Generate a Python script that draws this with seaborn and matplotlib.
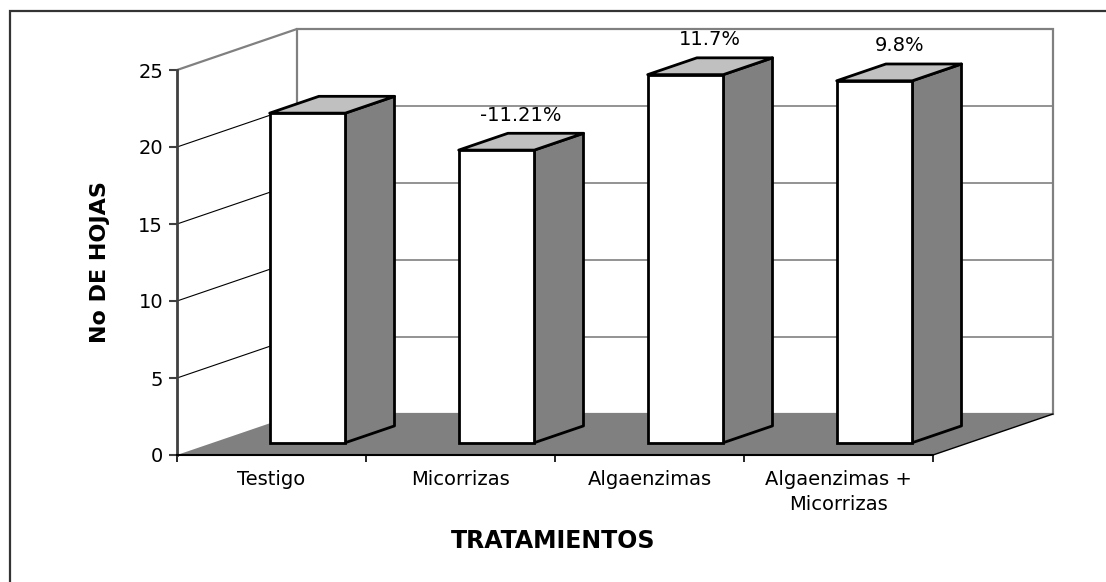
import numpy as np
import pandas as pd
import matplotlib
matplotlib.use("Agg")
import matplotlib.pyplot as plt
import seaborn as sns
from matplotlib.patches import Polygon, Rectangle
from matplotlib.transforms import Affine2D

# data
tratamientos = ["Testigo", "Micorrizas", "Algaenzimas", "Algaenzimas +\nMicorrizas"]
hojas = [21.4, 19.0, 23.9, 23.5]
porcentajes = ["", "-11.21%", "11.7%", "9.8%"]
y_ticks = [0, 5, 10, 15, 20, 25]

sns.set_style("white")
plt.rcParams["font.family"] = ["DejaVu Sans"]
plt.rcParams["text.color"] = "black"
plt.rcParams["axes.labelcolor"] = "black"

fig = plt.figure(figsize=(11.06, 5.82), dpi=100)
ax = fig.add_axes([177 / 1106, 127 / 582, 756 / 1106, 385 / 582])
ax.patch.set_visible(False)

df = pd.DataFrame({"Tratamiento": tratamientos, "Hojas": hojas})
sns.barplot(data=df, x="Tratamiento", y="Hojas", color="white", saturation=1,
            edgecolor="black", linewidth=2, width=0.4, ax=ax)
bars = list(ax.patches)

x0, x1 = -0.5, 3.5
ax.set_xlim(x0, x1)
ax.set_ylim(0, 25)

# oblique depth offset (pixels -> data units)
p0 = ax.transData.transform((0, 0))
p1 = ax.transData.transform((1, 1))
sx, sy = p1 - p0
Dx, Dy = 1.20 * fig.dpi / sx, 0.41 * fig.dpi / sy
f0, f1 = 0.30, 0.71

# back wall + gridlines
ax.add_patch(Polygon([(x0 + Dx, Dy), (x1 + Dx, Dy), (x1 + Dx, 25 + Dy), (x0 + Dx, 25 + Dy)],
                     closed=True, fc="white", ec="#808080", lw=1.6, clip_on=False, zorder=1))
for v in y_ticks[1:-1]:
    ax.plot([x0 + Dx, x1 + Dx], [v + Dy, v + Dy], color="#808080", lw=1.2, clip_on=False, zorder=1.1)
    ax.plot([x0, x0 + Dx], [v, v + Dy], color="black", lw=0.8, clip_on=False, zorder=1.1)
ax.plot([x0, x0 + Dx], [25, 25 + Dy], color="#808080", lw=1.6, clip_on=False, zorder=1.1)

# floor
ax.add_patch(Polygon([(x0, 0), (x1, 0), (x1 + Dx, Dy), (x0 + Dx, Dy)],
                     closed=True, fc="#808080", ec="none", clip_on=False, zorder=2))
ax.plot([x1, x1 + Dx], [0, Dy], color="black", lw=1, clip_on=False, zorder=2.1)

# 3D bars: shift the seaborn front faces and add top/side faces
for bar, txt in zip(bars, porcentajes):
    bx, bw, bh = bar.get_x(), bar.get_width(), bar.get_height()
    bar.set_transform(Affine2D().translate(f0 * Dx, f0 * Dy) + ax.transData)
    bar.set_zorder(5)
    bar.set_clip_on(False)
    side = [(bx + bw + f0 * Dx, f0 * Dy), (bx + bw + f1 * Dx, f1 * Dy),
            (bx + bw + f1 * Dx, bh + f1 * Dy), (bx + bw + f0 * Dx, bh + f0 * Dy)]
    top = [(bx + f0 * Dx, bh + f0 * Dy), (bx + bw + f0 * Dx, bh + f0 * Dy),
           (bx + bw + f1 * Dx, bh + f1 * Dy), (bx + f1 * Dx, bh + f1 * Dy)]
    ax.add_patch(Polygon(side, closed=True, fc="#808080", ec="black", lw=2,
                         joinstyle="round", clip_on=False, zorder=4))
    ax.add_patch(Polygon(top, closed=True, fc="#C0C0C0", ec="black", lw=2,
                         joinstyle="round", clip_on=False, zorder=4))
    if txt:
        ax.annotate(txt, xy=(bx + bw / 2 + (f0 + f1) / 2 * Dx, bh + f1 * Dy),
                    xytext=(0, 9), textcoords="offset points", ha="center",
                    va="baseline", fontsize=14, color="black",
                    annotation_clip=False, zorder=6)

# axes styling
for s in ["top", "right"]:
    ax.spines[s].set_visible(False)
ax.spines["left"].set_color("#404040")
ax.spines["left"].set_linewidth(2)
ax.spines["bottom"].set_color("black")
ax.spines["bottom"].set_linewidth(1.5)
ax.spines["left"].set_zorder(3)
ax.spines["bottom"].set_zorder(3)

ax.set_yticks(y_ticks)
ax.tick_params(axis="y", direction="out", length=6, width=1.5, color="#404040",
               labelcolor="black", labelsize=14, pad=4, left=True)
ax.set_xticks(range(len(tratamientos)))
ax.set_xticklabels(tratamientos, linespacing=1.4)
ax.set_xticks(np.arange(x0, x1 + 0.1, 1.0), minor=True)
ax.tick_params(axis="x", which="major", length=0, labelsize=14, pad=11,
               labelcolor="black")
ax.tick_params(axis="x", which="minor", direction="out", length=5, width=1.2,
               color="black", bottom=True)

ax.set_ylabel("No DE HOJAS", fontsize=16, fontweight="bold", va="center")
ax.yaxis.set_label_coords(-0.1025, 0.5)
ax.set_xlabel("TRATAMIENTOS", fontsize=17, fontweight="bold", va="center")
ax.xaxis.set_label_coords(0.497, -0.2234)

# outer chart border (only top and left are inside the image)
fig.add_artist(Rectangle((10 / 1106, -0.05), 1.1, 1 - 11 / 582 + 0.05,
                         transform=fig.transFigure, fill=False, ec="#333333", lw=1.6))

fig.savefig("out.png", dpi=100)
